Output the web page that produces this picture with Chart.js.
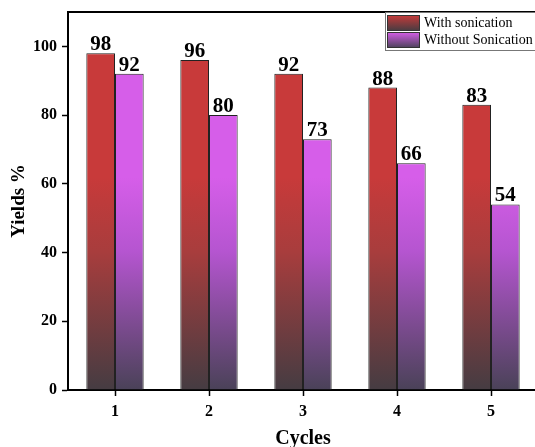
<!DOCTYPE html>
<html>
<head>
<meta charset="utf-8">
<script src="https://cdn.jsdelivr.net/npm/chart.js@4/dist/chart.umd.min.js"></script>
<style>
  html, body { margin: 0; padding: 0; background: #fff; overflow: hidden; }
  #wrap { width: 540px; height: 447px; }
</style>
</head>
<body>
<div id="wrap"><canvas id="chart"></canvas></div>
<script>
// data
const cycles = ['1', '2', '3', '4', '5'];
const withSonication = [98, 96, 92, 88, 83];
const withoutSonication = [92, 80, 73, 66, 54];
const seriesNames = ['With sonication', 'Without Sonication'];
const yTicks = [0, 20, 40, 60, 80, 100];

const serif = "'Liberation Serif', 'Times New Roman', serif";

// top colour, middle colour, bottom colour for each series
const redStops = ['#c83a3a', '#a83d3d', '#453c42'];
const purpleStops = ['#d65ee9', '#b555d0', '#4a4258'];

function barGradient(chart, stops) {
  const area = chart.chartArea;
  if (!area) return stops[0];
  const y = chart.scales.y;
  const g = chart.ctx.createLinearGradient(0, y.getPixelForValue(62), 0, area.bottom);
  g.addColorStop(0, stops[0]);
  g.addColorStop(0.35, stops[1]);
  g.addColorStop(1, stops[2]);
  return g;
}

// value labels above bars, frame top line and the boxed legend
const extras = {
  id: 'extras',
  afterDatasetsDraw(chart) {
    const ctx = chart.ctx;
    ctx.save();
    ctx.font = 'bold 21px ' + serif;
    ctx.fillStyle = '#000';
    ctx.textAlign = 'center';
    ctx.textBaseline = 'alphabetic';
    chart.data.datasets.forEach((ds, i) => {
      chart.getDatasetMeta(i).data.forEach((bar, j) => {
        ctx.fillText(String(ds.data[j]), bar.x, bar.y - 3);
      });
    });
    ctx.restore();
  },
  afterDraw(chart) {
    const ctx = chart.ctx;
    const a = chart.chartArea;
    ctx.save();
    // top frame line
    ctx.strokeStyle = '#000';
    ctx.lineWidth = 2;
    ctx.beginPath();
    ctx.moveTo(a.left - 1, a.top);
    ctx.lineTo(a.right + 5, a.top);
    ctx.stroke();

    // legend
    const lx = 385, ly = a.top, lw = 160, lh = 38;
    ctx.fillStyle = '#fff';
    ctx.fillRect(lx, ly + 1, lw, lh);
    ctx.strokeStyle = '#777';
    ctx.lineWidth = 1;
    ctx.strokeRect(lx + 0.5, ly + 0.5, lw, lh);
    const swatches = [redStops, purpleStops];
    ctx.font = '14px ' + serif;
    ctx.textBaseline = 'middle';
    ctx.textAlign = 'left';
    seriesNames.forEach((name, i) => {
      const sy = ly + 3 + i * 17;
      const g = ctx.createLinearGradient(0, sy, 0, sy + 16);
      g.addColorStop(0, swatches[i][0]);
      g.addColorStop(1, swatches[i][2]);
      ctx.fillStyle = g;
      ctx.fillRect(lx + 2, sy, 33, 16);
      ctx.strokeStyle = '#333';
      ctx.strokeRect(lx + 2.5, sy + 0.5, 32, 15);
      ctx.fillStyle = '#000';
      ctx.fillText(name, lx + 39, sy + 8);
    });
    ctx.restore();
  }
};

new Chart(document.getElementById('chart'), {
  type: 'bar',
  data: {
    labels: cycles,
    datasets: [
      {
        label: seriesNames[0],
        data: withSonication,
        backgroundColor: (c) => barGradient(c.chart, redStops),
        borderColor: '#222',
        borderWidth: 1,
        borderSkipped: 'bottom'
      },
      {
        label: seriesNames[1],
        data: withoutSonication,
        backgroundColor: (c) => barGradient(c.chart, purpleStops),
        borderColor: '#222',
        borderWidth: 1,
        borderSkipped: 'bottom'
      }
    ]
  },
  options: {
    responsive: true,
    maintainAspectRatio: false,
    animation: false,
    layout: { padding: { top: 12, right: 2, left: 0, bottom: 0 } },
    datasets: { bar: { categoryPercentage: 0.61, barPercentage: 1 } },
    plugins: {
      legend: { display: false },
      tooltip: { enabled: false }
    },
    scales: {
      x: {
        grid: { display: true, offset: false, drawOnChartArea: false, color: '#000', tickLength: 6, tickWidth: 1.5 },
        border: { display: true, color: '#000', width: 2 },
        ticks: { color: '#000', font: { family: serif, size: 16, weight: 'bold' }, padding: 6 },
        title: {
          display: true, text: 'Cycles', color: '#000',
          font: { family: serif, size: 20, weight: 'bold' },
          padding: { top: 0, bottom: -4 }
        },
        afterFit(scale) { scale.height = 57; scale.paddingLeft = 0; scale.paddingRight = 0; }
      },
      y: {
        min: 0,
        max: 110,
        afterBuildTicks(scale) { scale.ticks = yTicks.map(v => ({ value: v })); },
        grid: { display: true, drawOnChartArea: false, color: '#000', tickLength: 6, tickWidth: 1.5 },
        border: { display: true, color: '#000', width: 2 },
        ticks: { color: '#000', font: { family: serif, size: 16, weight: 'bold' }, padding: 5 },
        title: {
          display: true, text: 'Yields %', color: '#000',
          font: { family: serif, size: 19, weight: 'bold' },
          padding: { top: 8, bottom: 0 }
        },
        afterFit(scale) { scale.width = 68; scale.paddingTop = 0; scale.paddingBottom = 0; }
      }
    }
  },
  plugins: [extras]
});
</script>
</body>
</html>
